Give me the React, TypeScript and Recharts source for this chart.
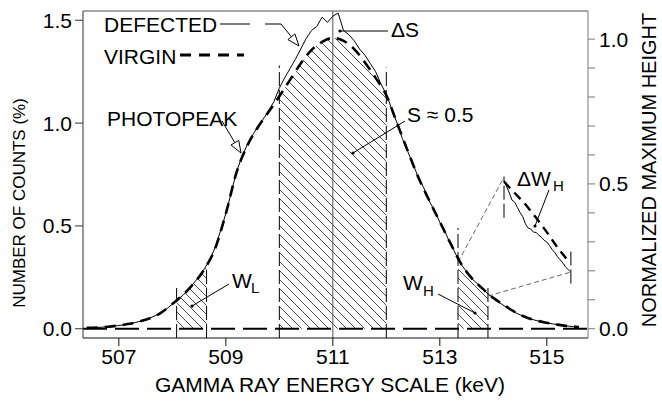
import React from "react";
import { ComposedChart, Line, Area, XAxis, YAxis, ReferenceLine } from "recharts";

// axis ticks
const energyTicks = [507, 509, 511, 513, 515];
const countTicks = [0, 0.5, 1.0, 1.5];
const heightTicks = [0, 0.1, 0.2, 0.3, 0.4, 0.5, 0.6, 0.7, 0.8, 0.9, 1.0];

// virgin photopeak (dashed), % of counts
const virginEnergy = [
  506.4, 506.6, 506.8, 507.0, 507.2, 507.4, 507.6, 507.8, 508.0, 508.2, 508.4, 508.6,
  508.8, 509.0, 509.2, 509.4, 509.6, 509.8, 510.0, 510.2, 510.4, 510.6, 510.8, 511.0,
  511.2, 511.4, 511.6, 511.8, 512.0, 512.2, 512.4, 512.6, 512.8, 513.0, 513.2, 513.4,
  513.6, 513.8, 514.0, 514.2, 514.4, 514.6, 514.8, 515.0, 515.2, 515.4, 515.6,
];
const virginCounts = [
  0.004, 0.006, 0.01, 0.016, 0.024, 0.036, 0.053, 0.08, 0.12, 0.165, 0.22, 0.29,
  0.39, 0.56, 0.76, 0.89, 0.98, 1.055, 1.13, 1.21, 1.29, 1.355, 1.395, 1.415,
  1.4, 1.36, 1.295, 1.22, 1.135, 1.0, 0.865, 0.735, 0.625, 0.52, 0.415, 0.315,
  0.245, 0.195, 0.15, 0.115, 0.082, 0.057, 0.04, 0.029, 0.02, 0.013, 0.008,
];

// defected photopeak (thin solid)
const defectedEnergy = [
  506.4, 506.5, 506.6, 506.7, 506.8, 506.9, 507.0, 507.1, 507.2, 507.3, 507.4, 507.5,
  507.6, 507.7, 507.8, 507.9, 508.0, 508.1, 508.2, 508.3, 508.4, 508.5, 508.6, 508.7,
  508.8, 508.9, 509.0, 509.1, 509.2, 509.3, 509.4, 509.5, 509.6, 509.7, 509.8, 509.9,
  510.0, 510.1, 510.2, 510.3, 510.4, 510.5, 510.6, 510.7, 510.8, 510.9, 511.0, 511.1,
  511.2, 511.3, 511.4, 511.5, 511.6, 511.7, 511.8, 511.9, 512.0, 512.1, 512.2, 512.3,
  512.4, 512.5, 512.6, 512.7, 512.8, 512.9, 513.0, 513.1, 513.2, 513.3, 513.4, 513.5,
  513.6, 513.7, 513.8, 513.9, 514.0, 514.1, 514.2, 514.3, 514.4, 514.5, 514.6, 514.7,
  514.8, 514.9, 515.0, 515.1, 515.2, 515.3, 515.4, 515.5, 515.6,
];
const defectedCounts = [
  0.004, 0.005, 0.006, 0.008, 0.01, 0.012, 0.016, 0.019, 0.024, 0.03, 0.036, 0.043,
  0.054, 0.066, 0.08, 0.098, 0.12, 0.142, 0.163, 0.19, 0.222, 0.252, 0.292, 0.335,
  0.395, 0.475, 0.56, 0.66, 0.765, 0.835, 0.895, 0.94, 0.985, 1.02, 1.06, 1.105,
  1.17, 1.22, 1.265, 1.31, 1.36, 1.41, 1.45, 1.47, 1.515, 1.49, 1.52, 1.535,
  1.45, 1.43, 1.4, 1.36, 1.33, 1.29, 1.25, 1.19, 1.14, 1.07, 1.0, 0.925,
  0.862, 0.8, 0.735, 0.685, 0.622, 0.575, 0.518, 0.47, 0.412, 0.362, 0.312, 0.278,
  0.243, 0.22, 0.192, 0.17, 0.148, 0.13, 0.112, 0.095, 0.08, 0.068, 0.056, 0.048,
  0.04, 0.034, 0.029, 0.024, 0.02, 0.016, 0.013, 0.01, 0.008,
];

// hatched windows W_L, S, W_H (top follows the virgin peak)
const lowWinEnergy = [508.08, 508.2, 508.3, 508.4, 508.5, 508.64];
const lowWinCounts = [0.14, 0.165, 0.19, 0.22, 0.252, 0.305];
const peakWinEnergy = [510.0, 510.2, 510.4, 510.6, 510.8, 511.0, 511.2, 511.4, 511.6, 511.8, 512.0];
const peakWinCounts = [1.13, 1.21, 1.29, 1.355, 1.395, 1.415, 1.4, 1.36, 1.295, 1.22, 1.14];
const highWinEnergy = [513.34, 513.4, 513.5, 513.6, 513.7, 513.8, 513.9];
const highWinCounts = [0.33, 0.312, 0.278, 0.245, 0.22, 0.195, 0.17];

// magnified tail (Delta W_H) inset
const insetVirginEnergy = [514.2, 514.4, 514.6, 514.8, 515.0, 515.2, 515.43];
const insetVirginCounts = [0.715, 0.66, 0.605, 0.54, 0.47, 0.395, 0.32];
const insetDefectedEnergy = [
  514.2, 514.25, 514.3, 514.35, 514.4, 514.45, 514.5, 514.55, 514.6, 514.65, 514.7, 514.75,
  514.8, 514.85, 514.9, 514.95, 515.0, 515.05, 515.1, 515.15, 515.2, 515.25, 515.3, 515.35, 515.43,
];
const insetDefectedCounts = [
  0.72, 0.69, 0.66, 0.625, 0.615, 0.59, 0.565, 0.545, 0.51, 0.49, 0.485, 0.47,
  0.468, 0.455, 0.445, 0.43, 0.422, 0.405, 0.385, 0.37, 0.35, 0.335, 0.32, 0.3, 0.28,
];

const toRows = (es: number[], vs: number[]) => es.map((e, i) => ({ e, v: vs[i] }));

const virginData = toRows(virginEnergy, virginCounts);
const defectedData = toRows(defectedEnergy, defectedCounts);
const lowWinData = toRows(lowWinEnergy, lowWinCounts);
const peakWinData = toRows(peakWinEnergy, peakWinCounts);
const highWinData = toRows(highWinEnergy, highWinCounts);
const insetVirginData = toRows(insetVirginEnergy, insetVirginCounts);
const insetDefectedData = toRows(insetDefectedEnergy, insetDefectedCounts);

const FONT = "'Liberation Sans', Arial, Helvetica, sans-serif";
const Y_MIN = -0.045;
const Y_MAX = 1.545;

// window edges: [energy, bottom, top]
const windowEdges: [number, number, number][] = [
  [508.08, Y_MIN, 0.21],
  [508.64, Y_MIN, 0.29],
  [510.0, Y_MIN, 1.28],
  [512.0, Y_MIN, 1.27],
  [513.34, Y_MIN, 0.49],
  [513.9, Y_MIN, 0.2],
  [514.2, 0.54, 0.74],
  [515.45, 0.22, 0.38],
];

const HollowArrow = ({ x1, y1, x2, y2 }: { x1: number; y1: number; x2: number; y2: number }) => {
  const len = Math.hypot(x2 - x1, y2 - y1);
  const ux = (x2 - x1) / len;
  const uy = (y2 - y1) / len;
  const bx = x2 - ux * 12;
  const by = y2 - uy * 12;
  const pts = `${x2},${y2} ${bx - uy * 4.5},${by + ux * 4.5} ${bx + uy * 4.5},${by - ux * 4.5}`;
  return (
    <g>
      <line x1={x1} y1={y1} x2={bx} y2={by} stroke="#000" strokeWidth={1} />
      <polygon points={pts} fill="#fff" stroke="#000" strokeWidth={1} />
    </g>
  );
};

const Pointer = ({ x1, y1, x2, y2 }: { x1: number; y1: number; x2: number; y2: number }) => (
  <g>
    <line x1={x1} y1={y1} x2={x2} y2={y2} stroke="#000" strokeWidth={1} />
    <circle cx={x2} cy={y2} r={1.6} fill="#000" />
  </g>
);

const tickStyle = { fontFamily: FONT, fontSize: 21, fill: "#000" };

export default function App() {
  return (
    <div style={{ position: "absolute", left: 0, top: 0, width: 662, height: 402, background: "#fff" }}>
      <svg width={0} height={0} style={{ position: "absolute" }}>
        <defs>
          <pattern id="hatch" patternUnits="userSpaceOnUse" width={9} height={9}>
            <path d="M0,0 L9,9 M-2,7 L2,11 M7,-2 L11,2" stroke="#000" strokeWidth={0.7} />
          </pattern>
        </defs>
      </svg>
      <ComposedChart width={662} height={402} margin={{ top: 11, right: 0, bottom: 0, left: 0 }}>
        <XAxis
          type="number"
          dataKey="e"
          domain={[506.33, 515.77]}
          ticks={energyTicks}
          allowDataOverflow
          height={64}
          tickSize={8}
          tickMargin={3}
          stroke="#111"
          tick={tickStyle}
        />
        <YAxis
          yAxisId="left"
          type="number"
          domain={[Y_MIN, Y_MAX]}
          ticks={countTicks}
          allowDataOverflow
          width={83}
          tickSize={8}
          tickMargin={3}
          stroke="#333"
          tick={tickStyle}
          tickFormatter={(v: number) => v.toFixed(1)}
        />
        <YAxis
          yAxisId="right"
          orientation="right"
          type="number"
          domain={[-0.032, 1.097]}
          ticks={heightTicks}
          allowDataOverflow
          width={74}
          tickSize={7}
          tickMargin={4}
          stroke="#777"
          tick={tickStyle}
          tickFormatter={(v: number) => (Math.abs(v * 2 - Math.round(v * 2)) < 1e-6 ? v.toFixed(1) : "")}
        />
        <ReferenceLine yAxisId="left" y={Y_MAX} stroke="#888" strokeWidth={1.5} />
        <Area yAxisId="left" data={lowWinData} dataKey="v" type="linear" baseValue={0} stroke="none" fill="url(#hatch)" fillOpacity={1} isAnimationActive={false} />
        <Area yAxisId="left" data={peakWinData} dataKey="v" type="monotone" baseValue={0} stroke="none" fill="url(#hatch)" fillOpacity={1} isAnimationActive={false} />
        <Area yAxisId="left" data={highWinData} dataKey="v" type="linear" baseValue={0} stroke="none" fill="url(#hatch)" fillOpacity={1} isAnimationActive={false} />
        <ReferenceLine yAxisId="left" y={0} stroke="#000" strokeWidth={2} strokeDasharray="24 8" />
        <ReferenceLine yAxisId="left" x={511} stroke="#555" strokeWidth={1} />
        {windowEdges.map(([e, lo, hi]) => (
          <ReferenceLine
            key={e}
            yAxisId="left"
            segment={[{ x: e, y: lo }, { x: e, y: hi }]}
            stroke="#000"
            strokeWidth={1}
            strokeDasharray="14 4"
            ifOverflow="visible"
          />
        ))}
        <ReferenceLine yAxisId="left" segment={[{ x: 513.34, y: 0.324 }, { x: 514.2, y: 0.737 }]} stroke="#666" strokeWidth={1} strokeDasharray="5 3" />
        <ReferenceLine yAxisId="left" segment={[{ x: 513.9, y: 0.159 }, { x: 515.45, y: 0.276 }]} stroke="#666" strokeWidth={1} strokeDasharray="5 3" />
        <Line yAxisId="left" data={virginData} dataKey="v" type="monotone" stroke="#000" strokeWidth={2.6} strokeDasharray="11 7" dot={false} isAnimationActive={false} />
        <Line yAxisId="left" data={defectedData} dataKey="v" type="linear" stroke="#000" strokeWidth={1} dot={false} isAnimationActive={false} />
        <Line yAxisId="left" data={insetVirginData} dataKey="v" type="linear" stroke="#000" strokeWidth={2.4} strokeDasharray="9 6" dot={false} isAnimationActive={false} />
        <Line yAxisId="left" data={insetDefectedData} dataKey="v" type="linear" stroke="#000" strokeWidth={1} dot={false} isAnimationActive={false} />
      </ComposedChart>
      <svg
        width={662}
        height={402}
        style={{ position: "absolute", left: 0, top: 0, pointerEvents: "none" }}
        fontFamily={FONT}
        fill="#000"
      >
        <text x={25} y={203} fontSize={17} textAnchor="middle" transform="rotate(-90 25 203)">
          NUMBER OF COUNTS (%)
        </text>
        <text x={656} y={170} fontSize={20} textAnchor="middle" transform="rotate(-90 656 170)">
          NORMALIZED MAXIMUM HEIGHT
        </text>
        <text x={330} y={392} fontSize={21} textAnchor="middle">
          GAMMA RAY ENERGY SCALE (keV)
        </text>

        <text x={104} y={32} fontSize={21}>DEFECTED</text>
        <line x1={220} y1={24} x2={250} y2={24} stroke="#000" strokeWidth={1} />
        <polyline points="265,24 281,24" fill="none" stroke="#000" strokeWidth={1} />
        <HollowArrow x1={281} y1={24} x2={299} y2={46} />

        <text x={104} y={64} fontSize={21}>VIRGIN</text>
        <line x1={180} y1={55} x2={244} y2={55} stroke="#000" strokeWidth={3} strokeDasharray="11 8" />

        <text x={107} y={126} fontSize={21}>PHOTOPEAK</text>
        <HollowArrow x1={222} y1={121} x2={241} y2={153} />

        <text x={391} y={37} fontSize={21}>ΔS</text>
        <Pointer x1={388} y1={31} x2={340} y2={31} />

        <text x={407} y={122} fontSize={21}>S ≈ 0.5</text>
        <Pointer x1={405} y1={121} x2={353} y2={153} />

        <text x={232} y={288} fontSize={21}>W</text>
        <text x={251} y={293} fontSize={15}>L</text>
        <Pointer x1={229} y1={284} x2={192} y2={306} />

        <text x={403} y={290} fontSize={21}>W</text>
        <text x={423} y={296} fontSize={15}>H</text>
        <Pointer x1={438} y1={294} x2={475} y2={313} />

        <text x={517} y={186} fontSize={21}>ΔW</text>
        <text x={553} y={191} fontSize={15}>H</text>
        <Pointer x1={549} y1={190} x2={535} y2={226} />
      </svg>
    </div>
  );
}
